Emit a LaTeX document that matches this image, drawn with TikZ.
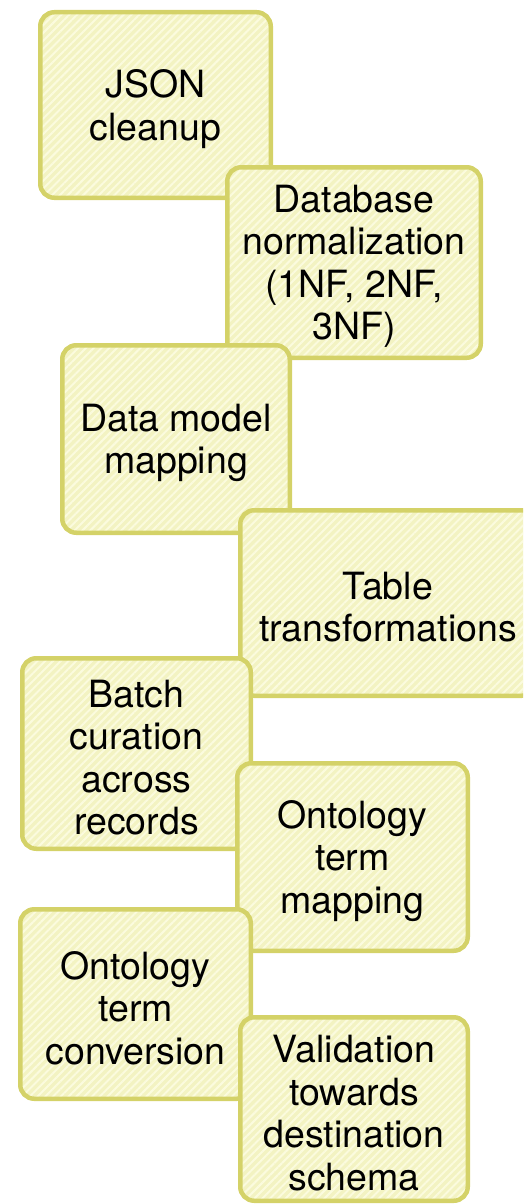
\documentclass[tikz,border=0pt]{standalone}
\usepackage{fontspec}
\setmainfont{TeX Gyre Heros}
\usetikzlibrary{patterns.meta}
\definecolor{boxfill}{RGB}{243,243,194}
\definecolor{boxstripe}{RGB}{251,251,222}
\definecolor{boxline}{RGB}{212,210,104}
\tikzset{
  card/.style={draw=boxline, line width=4.5pt, rounded corners=14pt,
    preaction={fill=boxfill},
    pattern={Lines[angle=45,distance=5.5pt,line width=2pt]}, pattern color=boxstripe,
    inner sep=0pt},
  cardtext/.style={align=center, inner sep=0pt, text=black, yshift=-4pt,
    font=\fontsize{37.5}{42.5}\selectfont},
}
\begin{document}
\begin{tikzpicture}[x=1pt,y=1pt]
\path[use as bounding box, clip] (0,0) rectangle (523,-1204);
\node[card, minimum width=230.5pt, minimum height=185.5pt,
  label={[cardtext]center:JSON\\cleanup}] (json) at (155.5,-105) {};
\node[card, minimum width=253.5pt, minimum height=190.5pt,
  label={[cardtext]center:Database\\normalization\\(1NF, 2NF,\\3NF)}] (dbnorm) at (354,-262.5) {};
\node[card, minimum width=227.5pt, minimum height=187.5pt,
  label={[cardtext]center:Data model\\mapping}] (dmm) at (176,-439) {};
\node[card, minimum width=295.5pt, minimum height=185.5pt,
  label={[cardtext]center:Table\\transformations}] (table) at (388,-603) {};
\node[card, minimum width=228.5pt, minimum height=190.5pt,
  label={[cardtext]center:Batch\\curation\\across\\records}] (batch) at (136.5,-753.5) {};
\node[card, minimum width=230.5pt, minimum height=187.5pt,
  label={[cardtext]center:Ontology\\term\\mapping}] (otmap) at (352.5,-857) {};
\node[card, minimum width=230.5pt, minimum height=189.5pt,
  label={[cardtext]center:Ontology\\term\\conversion}] (otconv) at (135.5,-1004) {};
\node[card, minimum width=227.5pt, minimum height=183.5pt,
  label={[cardtext]center:Validation\\towards\\destination\\schema}] (valid) at (354,-1109) {};
\end{tikzpicture}
\end{document}
